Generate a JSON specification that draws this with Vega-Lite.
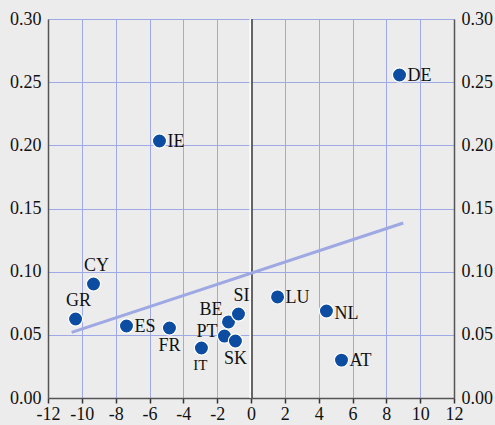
{
  "$schema": "https://vega.github.io/schema/vega-lite/v6.json",
  "width": 406,
  "height": 379,
  "autosize": {"type": "none"},
  "padding": {"left": 48, "top": 19, "right": 41, "bottom": 27},
  "background": "#ececec",
  "config": {
    "view": {"stroke": null},
    "font": "Liberation Serif",
    "axis": {
      "labelFont": "Liberation Serif",
      "labelFontSize": 18,
      "labelColor": "#111111",
      "domainColor": "#555555",
      "domainWidth": 1.5,
      "gridColor": "#9fa9e6",
      "gridWidth": 1,
      "gridOpacity": 1,
      "labelOverlap": false,
      "labelFlush": false,
      "title": null
    }
  },
  "datasets": {
    "pts": [
      {"c": "DE", "x": 8.78, "y": 0.2557},
      {"c": "IE", "x": -5.41, "y": 0.2034},
      {"c": "CY", "x": -9.31, "y": 0.0902},
      {"c": "GR", "x": -10.37, "y": 0.0625},
      {"c": "ES", "x": -7.36, "y": 0.0570},
      {"c": "FR", "x": -4.82, "y": 0.0554},
      {"c": "IT", "x": -2.93, "y": 0.0396},
      {"c": "PT", "x": -1.57, "y": 0.0490},
      {"c": "BE", "x": -1.33, "y": 0.0602},
      {"c": "SI", "x": -0.74, "y": 0.0665},
      {"c": "SK", "x": -0.92, "y": 0.0451},
      {"c": "LU", "x": 1.57, "y": 0.0800},
      {"c": "NL", "x": 4.46, "y": 0.0689},
      {"c": "AT", "x": 5.35, "y": 0.0300}
    ],
    "fit": [
      {"x": -10.6, "y": 0.052},
      {"x": 9.0, "y": 0.1385}
    ],
    "zero": [{"x": 0, "y": 0}, {"x": 0, "y": 0.3}]
  },
  "encoding": {
    "x": {"field": "x", "type": "quantitative", "scale": {"domain": [-12, 12], "nice": false, "zero": false},
          "axis": {"values": [-12, -10, -8, -6, -4, -2, 0, 2, 4, 6, 8, 10, 12], "labelExpr": "datum.value < 0 ? '-' + abs(datum.value) : '' + datum.value", "grid": true, "ticks": true, "tickColor": "#333333", "tickWidth": 1.5, "tickSize": 5, "labelPadding": 2, "labelOverlap": false, "labelFlush": false}},
    "y": {"field": "y", "type": "quantitative", "scale": {"domain": [0, 0.3], "nice": false},
          "axis": {"orient": "left", "values": [0, 0.05, 0.1, 0.15, 0.2, 0.25, 0.3], "format": ".2f", "grid": true, "ticks": false, "labelPadding": 7, "labelFlush": false}}
  },
  "resolve": {"axis": {"y": "independent"}},
  "layer": [
    {
      "data": {"name": "pts"},
      "mark": {"type": "point", "opacity": 0}
    },
    {
      "data": {"name": "pts"},
      "mark": {"type": "point", "opacity": 0},
      "encoding": {
        "y": {"field": "y", "type": "quantitative",
              "axis": {"orient": "right", "values": [0, 0.05, 0.1, 0.15, 0.2, 0.25, 0.3], "format": ".2f", "grid": false, "ticks": false, "labelPadding": 7, "labelFlush": false}}
      }
    },
    {
      "data": {"name": "zero"},
      "mark": {"type": "line", "color": "#ffffff", "strokeWidth": 3},
      "encoding": {"y": {"field": "y", "type": "quantitative", "axis": null}}
    },
    {
      "data": {"name": "zero"},
      "mark": {"type": "line", "color": "#333333", "strokeWidth": 1.5, "xOffset": 1},
      "encoding": {"y": {"field": "y", "type": "quantitative", "axis": null}}
    },
    {
      "data": {"name": "fit"},
      "mark": {"type": "line", "color": "#9ea8e2", "strokeWidth": 3},
      "encoding": {"y": {"field": "y", "type": "quantitative", "axis": null}}
    },
    {
      "data": {"name": "pts"},
      "mark": {"type": "point", "filled": true, "size": 200, "color": "#0c4da2", "stroke": "#ffffff", "strokeWidth": 1.2, "opacity": 1},
      "encoding": {"y": {"field": "y", "type": "quantitative", "axis": null}}
    },
    {
      "data": {"name": "pts"},
      "transform": [{"filter": {"field": "c", "oneOf": ["DE", "IE", "ES", "LU", "AT"]}}],
      "mark": {"type": "text", "align": "left", "baseline": "middle", "dx": 8, "dy": 1, "fontSize": 18, "font": "Liberation Serif", "color": "#111111"},
      "encoding": {"y": {"field": "y", "type": "quantitative", "axis": null}, "text": {"field": "c"}}
    },
    {
      "data": {"name": "pts"},
      "transform": [{"filter": {"field": "c", "oneOf": ["NL"]}}],
      "mark": {"type": "text", "align": "left", "baseline": "middle", "dx": 8, "dy": 3, "fontSize": 18, "font": "Liberation Serif", "color": "#111111"},
      "encoding": {"y": {"field": "y", "type": "quantitative", "axis": null}, "text": {"field": "c"}}
    },
    {
      "data": {"name": "pts"},
      "transform": [{"filter": {"field": "c", "oneOf": ["CY", "GR", "SI"]}}],
      "mark": {"type": "text", "align": "center", "baseline": "middle", "dx": 3, "dy": -18, "fontSize": 18, "font": "Liberation Serif", "color": "#111111"},
      "encoding": {"y": {"field": "y", "type": "quantitative", "axis": null}, "text": {"field": "c"}}
    },
    {
      "data": {"name": "pts"},
      "transform": [{"filter": {"field": "c", "oneOf": ["FR", "SK"]}}],
      "mark": {"type": "text", "align": "center", "baseline": "middle", "dx": 0, "dy": 18, "fontSize": 18, "font": "Liberation Serif", "color": "#111111"},
      "encoding": {"y": {"field": "y", "type": "quantitative", "axis": null}, "text": {"field": "c"}}
    },
    {
      "data": {"name": "pts"},
      "transform": [{"filter": {"field": "c", "oneOf": ["IT"]}}],
      "mark": {"type": "text", "align": "center", "baseline": "middle", "dx": -1, "dy": 17, "fontSize": 15, "font": "Liberation Serif", "color": "#111111"},
      "encoding": {"y": {"field": "y", "type": "quantitative", "axis": null}, "text": {"field": "c"}}
    },
    {
      "data": {"name": "pts"},
      "transform": [{"filter": {"field": "c", "oneOf": ["BE"]}}],
      "mark": {"type": "text", "align": "right", "baseline": "middle", "dx": -6, "dy": -12, "fontSize": 18, "font": "Liberation Serif", "color": "#111111"},
      "encoding": {"y": {"field": "y", "type": "quantitative", "axis": null}, "text": {"field": "c"}}
    },
    {
      "data": {"name": "pts"},
      "transform": [{"filter": {"field": "c", "oneOf": ["PT"]}}],
      "mark": {"type": "text", "align": "right", "baseline": "middle", "dx": -7, "dy": -4, "fontSize": 18, "font": "Liberation Serif", "color": "#111111"},
      "encoding": {"y": {"field": "y", "type": "quantitative", "axis": null}, "text": {"field": "c"}}
    }
  ]
}
